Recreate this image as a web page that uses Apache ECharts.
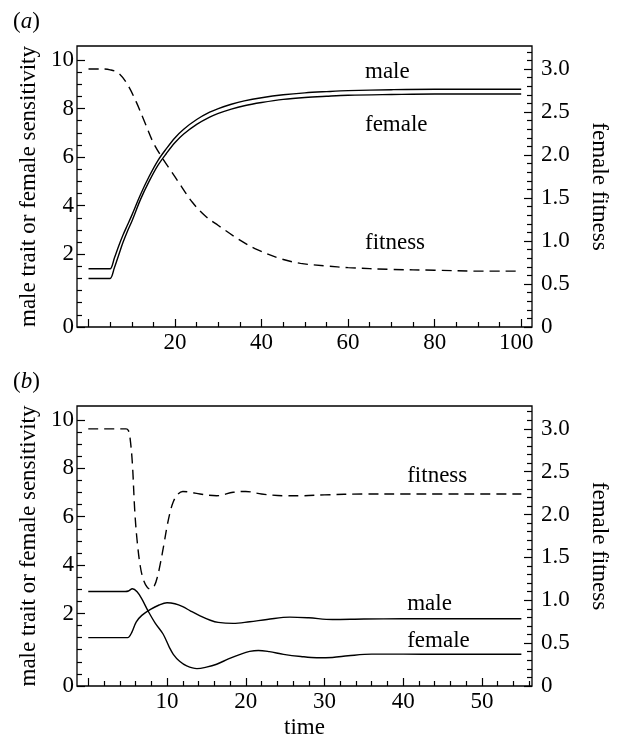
<!DOCTYPE html>
<html>
<head>
<meta charset="utf-8">
<script src="https://cdn.jsdelivr.net/npm/echarts@6/dist/echarts.min.js"></script>
<style>
html,body{margin:0;padding:0;background:#fff;}
#c{width:619px;height:740px;}
</style>
</head>
<body>
<div id="c"></div>
<script>
// ---------- Panel (a) data ----------
const timeA      = [0, 4.5, 5, 6, 7, 8, 9, 10, 12, 14, 16, 18, 20, 22, 25, 28, 30, 33, 36, 40, 45, 50, 55, 60, 70, 80, 90, 100];
const maleA      = [1.4, 1.4, 1.4, 1.85, 2.35, 2.8, 3.2, 3.6, 4.45, 5.2, 5.85, 6.35, 6.8, 7.15, 7.55, 7.85, 8.0, 8.18, 8.32, 8.45, 8.57, 8.65, 8.7, 8.74, 8.78, 8.8, 8.8, 8.8];
const femaleA    = [1.0, 1.0, 1.0, 1.45, 1.98, 2.5, 2.95, 3.35, 4.25, 5.0, 5.65, 6.15, 6.6, 6.95, 7.35, 7.65, 7.8, 7.98, 8.12, 8.25, 8.38, 8.46, 8.51, 8.55, 8.58, 8.6, 8.6, 8.6];
const fitTimeA   = [0, 3, 5, 7, 9, 11, 13, 15, 17, 19, 21, 24, 27, 30, 35, 39, 44, 49, 55, 60, 70, 80, 90, 100];
const fitnessA   = [3.0, 3.0, 2.99, 2.95, 2.82, 2.62, 2.38, 2.14, 1.97, 1.82, 1.67, 1.45, 1.29, 1.18, 1.01, 0.9, 0.8, 0.74, 0.71, 0.69, 0.67, 0.66, 0.65, 0.65];

// ---------- Panel (b) data ----------
const maleTimeB   = [0, 4.6, 5, 5.5, 6.1, 6.8, 7.9, 9, 10, 11, 12, 13, 14.2, 15.5, 16.5, 18.4, 20.5, 22.7, 25.6, 28, 31, 35, 40, 45, 50, 55];
const maleB       = [1.0, 1.0, 1.0, 1.2, 1.65, 1.92, 2.17, 2.35, 2.44, 2.4, 2.28, 2.1, 1.9, 1.72, 1.63, 1.59, 1.66, 1.75, 1.85, 1.82, 1.75, 1.77, 1.78, 1.78, 1.78, 1.78];
const femaleTimeB = [0, 4.7, 5.1, 5.6, 6.2, 6.8, 7.6, 8.5, 9.5, 10.3, 10.8, 11.6, 12.5, 13.8, 15, 16.3, 17.8, 19.3, 20.5, 21.6, 23, 24.8, 27, 29, 31, 33, 36, 40, 45, 50, 55];
const femaleB     = [2.91, 2.91, 2.93, 3.02, 2.9, 2.6, 2.1, 1.6, 1.15, 0.6, 0.31, 0.02, -0.17, -0.28, -0.22, -0.1, 0.12, 0.31, 0.43, 0.47, 0.42, 0.31, 0.22, 0.17, 0.18, 0.25, 0.32, 0.32, 0.31, 0.31, 0.31];
const fitTimeB    = [0, 4.8, 5.1, 5.3, 5.6, 5.9, 6.2, 6.6, 7.0, 7.5, 7.9, 8.4, 8.8, 9.2, 9.6, 10.0, 10.4, 10.8, 11.3, 12.0, 13, 14.2, 16.3, 18.4, 20, 22, 24.9, 27, 30, 35, 40, 45, 50, 55];
const fitnessB    = [3.0, 3.0, 2.98, 2.9, 2.6, 2.05, 1.7, 1.4, 1.24, 1.15, 1.13, 1.17, 1.28, 1.45, 1.65, 1.86, 2.03, 2.15, 2.23, 2.27, 2.26, 2.24, 2.22, 2.26, 2.27, 2.24, 2.22, 2.22, 2.23, 2.24, 2.24, 2.24, 2.24, 2.24];

// ---------- Tick labels ----------
const xMajorA = [0, 20, 40, 60, 80, 100];
const xLabelA = [20, 40, 60, 80, 100];
const xMinorA = [5, 10, 15, 25, 30, 35, 45, 50, 55, 65, 70, 75, 85, 90, 95];
const xMajorB = [0, 10, 20, 30, 40, 50];
const xLabelB = [10, 20, 30, 40, 50];
const xMinorB = [2, 4, 6, 8, 12, 14, 16, 18, 22, 24, 26, 28, 32, 34, 36, 38, 42, 44, 46, 48, 52, 54, 56];
const yLeftMajor = [-1, 2, 4, 6, 8, 10];           // "-1" position carries the "0" label
const yLeftMinor = [-0.5, 0, 0.5, 1, 1.5, 2.5, 3, 3.5, 4.5, 5, 5.5, 6.5, 7, 7.5, 8.5, 9, 9.5];
const yRightMajor = [0, 0.5, 1.0, 1.5, 2.0, 2.5, 3.0];
const yRightMinor = [0.1,0.2,0.3,0.4,0.6,0.7,0.8,0.9,1.1,1.2,1.3,1.4,1.6,1.7,1.8,1.9,2.1,2.2,2.3,2.4,2.6,2.7,2.8,2.9,3.1,3.2];

const FONT = 'Liberation Serif';
const FS = 23;
const zip = (t, v) => t.map((x, i) => [x, v[i]]);
const tickStyle = { color: '#000', width: 1.2 };

function xAxes(grid, min, max, major, labels, minor, name) {
  return [
    { gridIndex: grid, type: 'value', min, max, position: 'bottom',
      axisLine: { show: false, onZero: false }, splitLine: { show: false },
      axisTick: { inside: true, length: 8, customValues: major, lineStyle: tickStyle },
      axisLabel: { customValues: labels, margin: 4, color: '#000', fontFamily: FONT, fontSize: FS,
        formatter: v => (v === 100 ? '{r|100}' : String(v)),
        rich: { r: { fontFamily: FONT, fontSize: FS, color: '#000', padding: [0, 10, 0, 0] } } },
      name: name || '', nameLocation: 'middle', nameGap: 30,
      nameTextStyle: { color: '#000', fontFamily: FONT, fontSize: FS } },
    { gridIndex: grid, type: 'value', min, max, position: 'bottom',
      axisLine: { show: false, onZero: false }, splitLine: { show: false }, axisLabel: { show: false },
      axisTick: { inside: true, length: 5, customValues: minor, lineStyle: tickStyle } }
  ];
}
function yAxes(grid) {
  return [
    { gridIndex: grid, type: 'value', min: -1, max: 10.58, position: 'left',
      axisLine: { show: false, onZero: false }, splitLine: { show: false },
      axisTick: { inside: true, length: 8, customValues: yLeftMajor, lineStyle: tickStyle },
      axisLabel: { customValues: yLeftMajor, margin: 3, color: '#000', fontFamily: FONT, fontSize: FS,
        formatter: v => (v === -1 ? '0' : String(v)) },
      name: 'male trait or female sensitivity', nameLocation: 'middle', nameGap: 37,
      nameTextStyle: { color: '#000', fontFamily: FONT, fontSize: FS } },
    { gridIndex: grid, type: 'value', min: -1, max: 10.58, position: 'left',
      axisLine: { show: false, onZero: false }, splitLine: { show: false }, axisLabel: { show: false },
      axisTick: { inside: true, length: 5, customValues: yLeftMinor, lineStyle: tickStyle } },
    { gridIndex: grid, type: 'value', min: 0, max: 3.267, position: 'right',
      axisLine: { show: false, onZero: false }, splitLine: { show: false },
      axisTick: { inside: true, length: 8, customValues: yRightMajor, lineStyle: tickStyle },
      axisLabel: { customValues: yRightMajor, margin: 9, color: '#000', fontFamily: FONT, fontSize: FS,
        formatter: v => (v === 0 ? '0' : v.toFixed(1)) },
      name: 'female fitness', nameLocation: 'middle', nameGap: 56, nameRotate: -90,
      nameTextStyle: { color: '#000', fontFamily: FONT, fontSize: FS } },
    { gridIndex: grid, type: 'value', min: 0, max: 3.267, position: 'right',
      axisLine: { show: false, onZero: false }, splitLine: { show: false }, axisLabel: { show: false },
      axisTick: { inside: true, length: 5, customValues: yRightMinor, lineStyle: tickStyle } }
  ];
}

const solid = { color: '#000', width: 1.4, type: 'solid' };
const dashed = { color: '#000', width: 1.4, type: [10, 6] };
function line(name, data, xi, yi, style) {
  return { name, type: 'line', data, xAxisIndex: xi, yAxisIndex: yi, showSymbol: false,
    smooth: 0.35, lineStyle: style, itemStyle: { color: '#000' }, silent: true, animation: false, z: 3 };
}

const chart = echarts.init(document.getElementById('c'), null, { renderer: 'canvas' });
chart.setOption({
  animation: false,
  backgroundColor: '#fff',
  grid: [
    { left: 77, top: 46, width: 455, height: 281, show: true, borderColor: '#000', borderWidth: 1.3, backgroundColor: 'transparent' },
    { left: 77, top: 406, width: 455, height: 281, show: true, borderColor: '#000', borderWidth: 1.3, backgroundColor: 'transparent' }
  ],
  xAxis: [
    ...xAxes(0, -2.66, 102.5, xMajorA, xLabelA, xMinorA),
    ...xAxes(1, -1.43, 56.35, xMajorB, xLabelB, xMinorB, 'time')
  ],
  yAxis: [ ...yAxes(0), ...yAxes(1) ],
  series: [
    line('male', zip(timeA, maleA), 0, 0, solid),
    line('female', zip(timeA, femaleA), 0, 0, solid),
    line('fitness', zip(fitTimeA, fitnessA), 0, 2, dashed),
    line('male', zip(maleTimeB, maleB), 2, 4, solid),
    line('female', zip(femaleTimeB, femaleB), 2, 4, solid),
    line('fitness', zip(fitTimeB, fitnessB), 2, 6, dashed)
  ]
});

// curve labels anchored in data coordinates (left axis scale)
const labelsA = [['male', 63.9, 9.5], ['female', 63.9, 7.32], ['fitness', 63.9, 2.45]];
const labelsB = [['fitness', 40.5, 7.69], ['male', 40.5, 2.41], ['female', 40.5, 0.85]];
const txt = (text, x, y) => ({ type: 'text', x, y,
  style: { text, fill: '#000', font: FS + 'px "' + FONT + '"', textAlign: 'left', textVerticalAlign: 'middle' } });
const g = [];
labelsA.forEach(([s, t, v]) => { const p = chart.convertToPixel({ xAxisIndex: 0, yAxisIndex: 0 }, [t, v]); g.push(txt(s, p[0], p[1])); });
labelsB.forEach(([s, t, v]) => { const p = chart.convertToPixel({ xAxisIndex: 2, yAxisIndex: 4 }, [t, v]); g.push(txt(s, p[0], p[1])); });
g.push({ type: 'text', x: 13, y: 22, style: { rich: { i: { fontStyle: 'italic', fontFamily: FONT, fontSize: FS } },
  text: '({i|a})', fill: '#000', fontFamily: FONT, fontSize: FS, textVerticalAlign: 'middle' } });
g.push({ type: 'text', x: 13, y: 382, style: { rich: { i: { fontStyle: 'italic', fontFamily: FONT, fontSize: FS } },
  text: '({i|b})', fill: '#000', fontFamily: FONT, fontSize: FS, textVerticalAlign: 'middle' } });
chart.setOption({ graphic: g });
</script>
</body>
</html>
